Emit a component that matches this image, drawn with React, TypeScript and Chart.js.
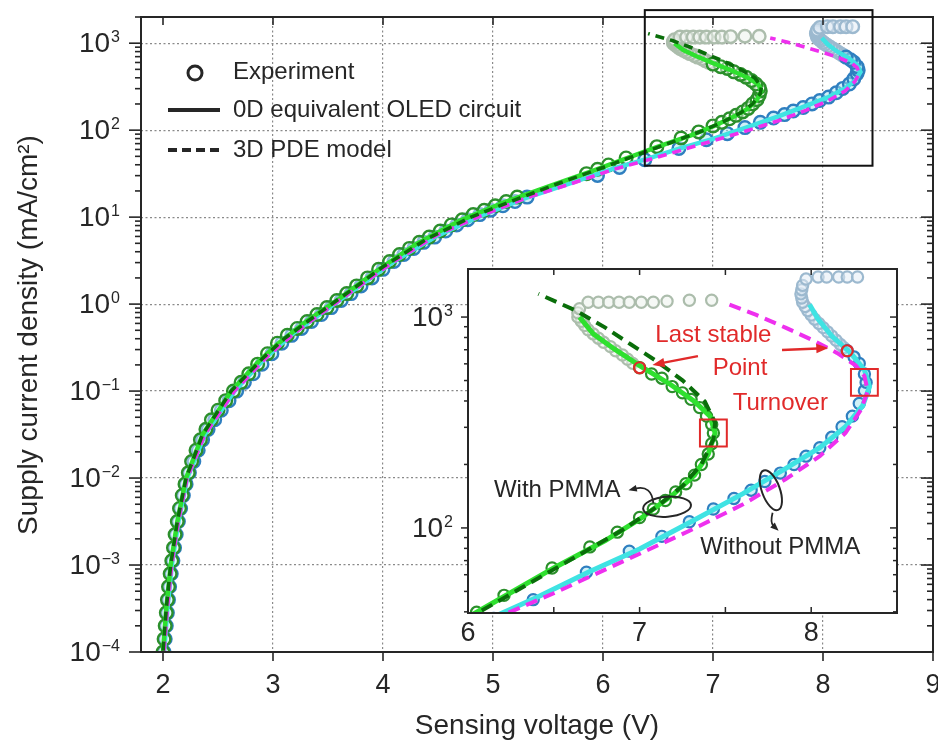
import { useEffect, useRef } from 'react';
import { Chart, registerables } from 'chart.js';

Chart.register(...registerables);

const FONT = '"Liberation Sans", Arial, Helvetica, sans-serif';
const INK = '#262626';
const GRID = '#8a8a8a';
const RED = '#e12a2a';

// ---------- axes / ticks ----------
const xTickValues = [2, 3, 4, 5, 6, 7, 8, 9];
const xTickLabels = ['2', '3', '4', '5', '6', '7', '8', '9'];
const yTickValues = [1e-4, 1e-3, 1e-2, 1e-1, 1, 10, 100, 1000];
const yTickExponents = ['−4', '−3', '−2', '−1', '0', '1', '2', '3'];
const insetXTickValues = [6, 6.5, 7, 7.5, 8];
const insetXTickLabels = ['6', '', '7', '', '8'];
const insetYTickValues = [10, 100, 1000];
const insetYTickExponents = ['1', '2', '3'];
const mainXRange = [1.8, 9];
const mainYRange = [1e-4, 2000];
const insetXRange = [6, 8.5];
const insetYRange = [39.5, 1690];

const xTitle = 'Sensing voltage (V)';
const yTitle = 'Supply current density (mA/cm²)';
const legendLabels = ['Experiment', '0D equivalent OLED circuit', '3D PDE model'];

// ---------- experiment: with PMMA (stable) ----------
const expWithV = [1.99, 2.0, 2.01, 2.02, 2.03, 2.04, 2.05, 2.065, 2.08, 2.095, 2.11, 2.13, 2.15, 2.175, 2.2, 2.23, 2.26, 2.3, 2.34, 2.39, 2.44, 2.5, 2.57, 2.64, 2.71, 2.78, 2.86, 2.95, 3.04, 3.13, 3.22, 3.31, 3.4, 3.49, 3.58, 3.67, 3.76, 3.86, 3.96, 4.06, 4.15, 4.24, 4.33, 4.42, 4.52, 4.62, 4.72, 4.82, 4.92, 5.02, 5.12, 5.22, 5.85, 5.95, 6.05, 6.21, 6.49, 6.71, 6.87, 7.0, 7.08, 7.15, 7.21, 7.27, 7.32, 7.36, 7.4, 7.42, 7.43, 7.42, 7.39, 7.35, 7.3, 7.25, 7.19, 7.13, 7.07, 7.0];
const expWithJ = [7.9e-5, 1.0e-4, 1.41e-4, 2.0e-4, 2.82e-4, 3.98e-4, 5.62e-4, 7.94e-4, 1.12e-3, 1.58e-3, 2.24e-3, 3.16e-3, 4.47e-3, 6.31e-3, 8.51e-3, 1.15e-2, 1.55e-2, 2.09e-2, 2.75e-2, 3.63e-2, 4.68e-2, 6.03e-2, 7.76e-2, 0.1, 0.126, 0.158, 0.204, 0.269, 0.355, 0.437, 0.525, 0.631, 0.759, 0.912, 1.1, 1.32, 1.62, 2.0, 2.51, 3.09, 3.72, 4.37, 5.13, 5.89, 6.92, 8.13, 9.33, 10.7, 12.0, 13.5, 15.1, 17.0, 31.6, 35.5, 39.8, 47.9, 64.6, 81.3, 95.5, 112, 123, 135, 148, 162, 178, 200, 224, 251, 282, 309, 339, 372, 407, 437, 468, 513, 537, 575];

// ---------- experiment: with PMMA (unstable, grey) ----------
const grayWithV = [6.96, 6.93, 6.9, 6.86, 6.83, 6.79, 6.76, 6.73, 6.7, 6.68, 6.66, 6.64, 6.64, 6.65, 6.7, 6.76, 6.82, 6.88, 6.94, 7.01, 7.08, 7.16, 7.29, 7.42];
const grayWithJ = [603, 631, 661, 692, 724, 759, 794, 832, 871, 912, 955, 1000, 1047, 1096, 1175, 1175, 1175, 1175, 1175, 1175, 1175, 1189, 1202, 1202];

// ---------- experiment: without PMMA (stable) ----------
const expWithoutV = [2.0, 2.01, 2.02, 2.03, 2.04, 2.05, 2.06, 2.075, 2.09, 2.105, 2.12, 2.14, 2.16, 2.185, 2.21, 2.24, 2.28, 2.32, 2.36, 2.41, 2.47, 2.53, 2.6, 2.67, 2.74, 2.82, 2.9, 2.99, 3.08, 3.17, 3.26, 3.35, 3.44, 3.53, 3.62, 3.71, 3.8, 3.9, 4.0, 4.1, 4.19, 4.28, 4.37, 4.47, 4.57, 4.67, 4.77, 4.88, 4.98, 5.09, 5.2, 5.31, 5.95, 6.15, 6.38, 6.69, 6.94, 7.13, 7.29, 7.43, 7.55, 7.65, 7.73, 7.82, 7.9, 7.97, 8.05, 8.12, 8.18, 8.24, 8.28, 8.31, 8.32, 8.31, 8.28, 8.25, 8.21];
const expWithoutJ = [7.9e-5, 1.0e-4, 1.41e-4, 2.0e-4, 2.82e-4, 3.98e-4, 5.62e-4, 7.94e-4, 1.12e-3, 1.58e-3, 2.24e-3, 3.16e-3, 4.47e-3, 6.31e-3, 8.51e-3, 1.15e-2, 1.55e-2, 2.09e-2, 2.75e-2, 3.63e-2, 4.68e-2, 6.03e-2, 7.76e-2, 0.1, 0.126, 0.158, 0.204, 0.269, 0.355, 0.437, 0.525, 0.631, 0.759, 0.912, 1.1, 1.32, 1.62, 2.0, 2.51, 3.09, 3.72, 4.37, 5.13, 5.89, 6.92, 8.13, 9.33, 10.7, 12.0, 13.5, 15.1, 17.0, 30.2, 37.2, 45.7, 61.7, 77.6, 91.2, 107, 123, 138, 151, 166, 182, 200, 219, 240, 269, 302, 339, 389, 447, 490, 537, 603, 646, 692];

// ---------- experiment: without PMMA (unstable, grey) ----------
const grayWithoutV = [8.19, 8.17, 8.145, 8.12, 8.095, 8.07, 8.045, 8.02, 8.0, 7.98, 7.965, 7.95, 7.945, 7.94, 7.945, 7.95, 7.97, 8.04, 8.09, 8.16, 8.21, 8.27];
const grayWithoutJ = [716, 741, 776, 813, 851, 891, 933, 977, 1023, 1072, 1122, 1175, 1230, 1288, 1349, 1413, 1514, 1549, 1549, 1549, 1549, 1549];

// ---------- 0D equivalent circuit ----------
const odWithV = [1.985, 2.0, 2.03, 2.07, 2.13, 2.21, 2.36, 2.62, 2.87, 3.05, 3.3, 3.6, 3.95, 4.3, 4.7, 5.1, 5.5, 5.9, 6.2, 6.5, 6.8, 7.0, 7.2, 7.32, 7.4, 7.44, 7.41, 7.32, 7.18, 7.0, 6.85, 6.73, 6.65];
const odWithJ = [7e-5, 1e-4, 3.16e-4, 1e-3, 3.16e-3, 1e-2, 3.16e-2, 0.1, 0.219, 0.355, 0.631, 1.15, 2.45, 4.9, 9.12, 14.8, 22.4, 33.9, 46.8, 64.6, 87.1, 110, 145, 178, 224, 282, 339, 398, 479, 589, 708, 832, 1000];
const odWithoutV = [1.995, 2.01, 2.04, 2.08, 2.14, 2.22, 2.38, 2.65, 2.93, 3.2, 3.5, 3.8, 4.1, 4.5, 4.9, 5.3, 5.7, 6.1, 6.4, 6.7, 7.0, 7.3, 7.6, 7.85, 8.05, 8.2, 8.3, 8.34, 8.31, 8.23, 8.12, 8.04, 7.99];
const odWithoutJ = [7e-5, 1e-4, 3.16e-4, 1e-3, 3.16e-3, 1e-2, 3.16e-2, 0.1, 0.24, 0.479, 0.891, 1.66, 3.09, 6.17, 10.5, 16.6, 24.5, 36.3, 46.8, 61.7, 79.4, 107, 145, 191, 240, 302, 380, 468, 562, 676, 813, 977, 1148];

// ---------- 3D PDE model ----------
const pdeWithV = [1.985, 2.0, 2.03, 2.07, 2.13, 2.21, 2.36, 2.62, 2.9, 3.1, 3.4, 3.7, 4.0, 4.4, 4.8, 5.2, 5.6, 6.0, 6.3, 6.6, 6.9, 7.1, 7.25, 7.36, 7.43, 7.44, 7.38, 7.25, 7.1, 6.95, 6.8, 6.63, 6.41];
const pdeWithJ = [7e-5, 1e-4, 3.16e-4, 1e-3, 3.16e-3, 1e-2, 3.16e-2, 0.1, 0.234, 0.398, 0.759, 1.41, 2.69, 5.62, 10, 15.8, 24.5, 37.2, 51.3, 70.8, 97.7, 126, 158, 200, 263, 316, 398, 501, 617, 741, 891, 1072, 1288];
const pdeWithoutV = [1.995, 2.01, 2.04, 2.08, 2.14, 2.22, 2.38, 2.65, 2.95, 3.2, 3.5, 3.8, 4.1, 4.5, 4.9, 5.3, 5.7, 6.1, 6.5, 6.9, 7.3, 7.6, 7.85, 8.05, 8.2, 8.29, 8.33, 8.31, 8.26, 8.15, 8.01, 7.85, 7.68, 7.52];
const pdeWithoutJ = [7e-5, 1e-4, 3.16e-4, 1e-3, 3.16e-3, 1e-2, 3.16e-2, 0.1, 0.251, 0.468, 0.891, 1.66, 3.09, 6.31, 10.5, 16.6, 24.0, 35.5, 49.0, 69.2, 97.7, 129, 170, 219, 282, 363, 447, 525, 589, 676, 776, 891, 1023, 1148];

// ---------- inset markers ----------
const lastStableV = [7.0, 8.21];
const lastStableJ = [575, 692];
const turnoverV = [7.43, 8.31];
const turnoverJ = [282, 490];

// zoom region drawn on main plot
const zoomBoxV = [6.38, 8.45];
const zoomBoxJ = [39, 2400];

// ---------- inset annotations ----------
const redNoteTexts = ['Last stable', 'Point', 'Turnover'];
const redNoteV = [7.43, 7.585, 7.82];
const redNoteJ = [822, 573, 391];
const redArrowFromV = [7.34, 7.83];
const redArrowFromJ = [653, 698];
const redArrowToV = [7.075, 8.1];
const redArrowToJ = [593, 713];
const groupTexts = ['With PMMA', 'Without PMMA'];
const groupTextV = [6.52, 7.82];
const groupTextJ = [151, 81];
const groupArrowFromV = [7.08, 7.775];
const groupArrowFromJ = [131, 118];
const groupArrowCtrlV = [7.07, 7.76];
const groupArrowCtrlJ = [160, 106];
const groupArrowToV = [6.935, 7.81];
const groupArrowToJ = [151, 97];
const groupEllipseV = [7.16, 7.765];
const groupEllipseJ = [126, 151];

const pts = (vs: number[], js: number[]) => vs.map((v, i) => ({ x: v, y: js[i] }));
const TRANSPARENT = 'rgba(0,0,0,0)';

function buildDatasets(inset: boolean): any[] {
  const r = inset ? 5.6 : 6.3;
  const bw = inset ? 2.2 : 2.4;
  const solidW = inset ? 5 : 4.5;
  const dashW = inset ? 4 : 3.6;
  const dash = inset ? [12, 7] : [9, 6];
  const circles = (data: any[], border: string, fill: string, order: number) => ({
    data, showLine: false, pointRadius: r, pointBorderWidth: bw, pointBorderColor: border,
    pointBackgroundColor: fill, pointStyle: 'circle', order, clip: 0,
  });
  const line = (data: any[], color: string, width: number, d: number[], order: number) => ({
    data, showLine: true, pointRadius: 0, borderColor: color, borderWidth: width,
    borderDash: d, tension: 0, fill: false, order, clip: 0,
  });
  const sets: any[] = [
    circles(pts(grayWithV, grayWithJ), '#acbdac', 'rgba(236,241,236,0.5)', 12),
    circles(pts(grayWithoutV, grayWithoutJ), '#9cb9cf', 'rgba(226,236,245,0.5)', 12),
    circles(pts(expWithoutV, expWithoutJ), '#2f7fc0', 'rgba(160,228,240,0.5)', 10),
    circles(pts(expWithV, expWithJ), '#2b8f2b', 'rgba(255,255,255,0.45)', 9),
    line(pts(odWithoutV, odWithoutJ), '#3fe3e3', solidW, [], 8),
    line(pts(odWithV, odWithJ), '#2fe02f', solidW, [], 7),
    line(pts(pdeWithoutV, pdeWithoutJ), '#ee30ee', dashW, dash, 6),
    line(pts(pdeWithV, pdeWithJ), '#0a6e0a', dashW, dash, 5),
  ];
  if (inset) {
    sets.push({
      data: pts(turnoverV, turnoverJ), showLine: false, pointStyle: 'rect', pointRadius: 19,
      pointBorderWidth: 2, pointBorderColor: RED, pointBackgroundColor: TRANSPARENT, order: 2, clip: 0,
    });
    sets.push({
      data: pts(lastStableV, lastStableJ), showLine: false, pointStyle: 'circle', pointRadius: 5.5,
      pointBorderWidth: 2.2, pointBorderColor: RED, pointBackgroundColor: TRANSPARENT, order: 1, clip: 0,
    });
  }
  return sets;
}

function seg(ctx: CanvasRenderingContext2D, x1: number, y1: number, x2: number, y2: number) {
  ctx.beginPath();
  ctx.moveTo(x1, y1);
  ctx.lineTo(x2, y2);
  ctx.stroke();
}

function drawPow(ctx: CanvasRenderingContext2D, right: number, yc: number, exp: string, big: number, small: number) {
  ctx.fillStyle = INK;
  ctx.textAlign = 'right';
  ctx.font = `${small}px ${FONT}`;
  const ew = ctx.measureText(exp).width;
  ctx.textBaseline = 'alphabetic';
  ctx.fillText(exp, right, yc - 1);
  ctx.font = `${big}px ${FONT}`;
  ctx.textBaseline = 'middle';
  ctx.fillText('10', right - ew - 1, yc + 1);
}

function curvedArrow(ctx: CanvasRenderingContext2D, x1: number, y1: number, cx: number, cy: number,
  x2: number, y2: number, color: string, w: number, head: number) {
  const ang = Math.atan2(y2 - cy, x2 - cx);
  const bx = x2 - Math.cos(ang) * head * 0.8;
  const by = y2 - Math.sin(ang) * head * 0.8;
  ctx.strokeStyle = color;
  ctx.fillStyle = color;
  ctx.lineWidth = w;
  ctx.beginPath();
  ctx.moveTo(x1, y1);
  ctx.quadraticCurveTo(cx, cy, bx, by);
  ctx.stroke();
  ctx.beginPath();
  ctx.moveTo(x2, y2);
  ctx.lineTo(x2 - head * Math.cos(ang - 0.38), y2 - head * Math.sin(ang - 0.38));
  ctx.lineTo(x2 - head * Math.cos(ang + 0.38), y2 - head * Math.sin(ang + 0.38));
  ctx.closePath();
  ctx.fill();
}

const isDecade = (v: number) => Math.abs(Math.log10(v) - Math.round(Math.log10(v))) < 1e-6;

const mainDeco = {
  id: 'mainDeco',
  afterDraw(chart: any) {
    const { ctx, chartArea: a, scales } = chart;
    const xs = scales.x;
    const ys = scales.y;
    ctx.save();
    ctx.strokeStyle = INK;
    ctx.lineWidth = 2;
    ctx.strokeRect(a.left, a.top, a.right - a.left, a.bottom - a.top);

    ctx.lineWidth = 1.6;
    yTickValues.forEach((v) => {
      for (let m = 1; m <= 9; m++) {
        const val = v * m;
        if (val > ys.max * 1.0001) break;
        const py = ys.getPixelForValue(val);
        const len = m === 1 ? 12 : 6;
        seg(ctx, a.left - len, py, a.left, py);
        seg(ctx, a.right - len, py, a.right, py);
      }
    });
    xTickValues.forEach((v) => {
      const px = xs.getPixelForValue(v);
      seg(ctx, px, a.bottom, px, a.bottom + 9);
      if (v < 9) seg(ctx, px, a.top, px, a.top + 8);
    });

    ctx.fillStyle = INK;
    ctx.font = `27px ${FONT}`;
    ctx.textAlign = 'center';
    ctx.textBaseline = 'middle';
    xTickValues.forEach((v, i) => ctx.fillText(xTickLabels[i], xs.getPixelForValue(v), a.bottom + 34));
    yTickValues.forEach((v, i) => drawPow(ctx, a.left - 21, ys.getPixelForValue(v), yTickExponents[i], 28, 16));

    ctx.fillStyle = INK;
    ctx.font = `28px ${FONT}`;
    ctx.textAlign = 'center';
    ctx.textBaseline = 'middle';
    ctx.fillText(xTitle, 537, 726);
    ctx.save();
    ctx.translate(29, 335);
    ctx.rotate(-Math.PI / 2);
    ctx.fillText(yTitle, 0, 0);
    ctx.restore();

    const lx = a.left + 54;
    const tx = a.left + 92;
    const rows = [a.top + 55, a.top + 93, a.top + 133];
    ctx.strokeStyle = INK;
    ctx.lineWidth = 3;
    ctx.beginPath();
    ctx.arc(lx, rows[0] + 1, 7, 0, Math.PI * 2);
    ctx.stroke();
    ctx.lineWidth = 4;
    seg(ctx, lx - 27, rows[1], lx + 25, rows[1]);
    ctx.setLineDash([9, 5]);
    seg(ctx, lx - 27, rows[2], lx + 25, rows[2]);
    ctx.setLineDash([]);
    ctx.fillStyle = INK;
    ctx.font = `24px ${FONT}`;
    ctx.textAlign = 'left';
    ctx.textBaseline = 'middle';
    legendLabels.forEach((t, i) => ctx.fillText(t, tx, rows[i]));

    const rx1 = xs.getPixelForValue(zoomBoxV[0]);
    const rx2 = xs.getPixelForValue(zoomBoxV[1]);
    const ry1 = ys.getPixelForValue(zoomBoxJ[1]);
    const ry2 = ys.getPixelForValue(zoomBoxJ[0]);
    ctx.strokeStyle = '#111';
    ctx.lineWidth = 2;
    ctx.strokeRect(rx1, ry1, rx2 - rx1, ry2 - ry1);
    ctx.restore();
  },
};

const insetDeco = {
  id: 'insetDeco',
  beforeDraw(chart: any) {
    const { ctx, chartArea: a } = chart;
    ctx.save();
    ctx.fillStyle = '#ffffff';
    ctx.fillRect(a.left, a.top, a.right - a.left, a.bottom - a.top);
    ctx.restore();
  },
  afterDraw(chart: any) {
    const { ctx, chartArea: a, scales } = chart;
    const xs = scales.x;
    const ys = scales.y;
    const X = (v: number) => xs.getPixelForValue(v);
    const Y = (j: number) => ys.getPixelForValue(j);
    ctx.save();
    ctx.strokeStyle = INK;
    ctx.lineWidth = 2;
    ctx.strokeRect(a.left, a.top, a.right - a.left, a.bottom - a.top);

    ctx.lineWidth = 1.5;
    insetYTickValues.forEach((v) => {
      for (let m = 1; m <= 9; m++) {
        const val = v * m;
        if (val < ys.min || val > ys.max) continue;
        const py = Y(val);
        const len = m === 1 ? 7 : 4;
        seg(ctx, a.left - len, py, a.left + 1, py);
        seg(ctx, a.right - len, py, a.right, py);
      }
    });
    insetXTickValues.forEach((v) => {
      const px = X(v);
      seg(ctx, px, a.bottom, px, a.bottom - 6);
      seg(ctx, px, a.top, px, a.top + 6);
    });

    ctx.fillStyle = INK;
    ctx.font = `27px ${FONT}`;
    ctx.textAlign = 'center';
    ctx.textBaseline = 'middle';
    insetXTickValues.forEach((v, i) => {
      if (insetXTickLabels[i]) ctx.fillText(insetXTickLabels[i], X(v), a.bottom + 21);
    });
    insetYTickValues.forEach((v, i) => {
      if (v >= ys.min && v <= ys.max) drawPow(ctx, a.left - 15, Y(v), insetYTickExponents[i], 28, 16);
    });

    ctx.fillStyle = RED;
    ctx.font = `24px ${FONT}`;
    ctx.textAlign = 'center';
    ctx.textBaseline = 'middle';
    redNoteTexts.forEach((t, i) => ctx.fillText(t, X(redNoteV[i]), Y(redNoteJ[i])));
    redArrowFromV.forEach((v, i) => {
      const x1 = X(v), y1 = Y(redArrowFromJ[i]);
      const x2 = X(redArrowToV[i]), y2 = Y(redArrowToJ[i]);
      curvedArrow(ctx, x1, y1, (x1 + x2) / 2, (y1 + y2) / 2, x2, y2, RED, 2.4, 13);
    });

    ctx.fillStyle = INK;
    ctx.font = `24px ${FONT}`;
    groupTexts.forEach((t, i) => ctx.fillText(t, X(groupTextV[i]), Y(groupTextJ[i])));
    ctx.strokeStyle = INK;
    ctx.lineWidth = 2;
    ctx.beginPath();
    ctx.ellipse(X(groupEllipseV[0]), Y(groupEllipseJ[0]), 24, 10, -0.08, 0, Math.PI * 2);
    ctx.stroke();
    ctx.beginPath();
    ctx.ellipse(X(groupEllipseV[1]), Y(groupEllipseJ[1]), 9, 21, -0.35, 0, Math.PI * 2);
    ctx.stroke();
    groupArrowFromV.forEach((v, i) => {
      curvedArrow(ctx, X(v), Y(groupArrowFromJ[i]), X(groupArrowCtrlV[i]), Y(groupArrowCtrlJ[i]),
        X(groupArrowToV[i]), Y(groupArrowToJ[i]), INK, 1.8, 9);
    });
    ctx.restore();
  },
};

const gridColorX = (c: any) => {
  const v = c.tick ? c.tick.value : NaN;
  return Math.abs(v - Math.round(v)) < 1e-6 && v >= 2 && v <= 8 ? GRID : TRANSPARENT;
};
const gridColorY = (c: any) => {
  const v = c.tick ? c.tick.value : NaN;
  return v > 0 && isDecade(v) && v > 1.5e-4 && v < 1500 ? GRID : TRANSPARENT;
};

export default function App() {
  const mainRef = useRef<HTMLCanvasElement>(null);
  const insetRef = useRef<HTMLCanvasElement>(null);

  useEffect(() => {
    const main = new Chart(mainRef.current as HTMLCanvasElement, {
      type: 'scatter',
      data: { datasets: buildDatasets(false) },
      options: {
        responsive: false,
        maintainAspectRatio: false,
        animation: false,
        devicePixelRatio: 1,
        events: [],
        layout: { autoPadding: false, padding: { left: 0, top: 17, right: 5, bottom: 0 } },
        plugins: { legend: { display: false }, tooltip: { enabled: false } },
        scales: {
          x: {
            type: 'linear', position: 'bottom', min: mainXRange[0], max: mainXRange[1],
            ticks: { display: false, stepSize: 1 },
            grid: { color: gridColorX, lineWidth: 1.2, drawTicks: false },
            border: { display: false, dash: [2, 2.5] },
            afterFit: (s: any) => { s.height = 90; },
          },
          y: {
            type: 'logarithmic', position: 'left', min: mainYRange[0], max: mainYRange[1],
            ticks: { display: false },
            grid: { color: gridColorY, lineWidth: 1.2, drawTicks: false },
            border: { display: false, dash: [2, 2.5] },
            afterFit: (s: any) => { s.width = 141; },
          },
        },
      } as any,
      plugins: [mainDeco],
    });

    const inset = new Chart(insetRef.current as HTMLCanvasElement, {
      type: 'scatter',
      data: { datasets: buildDatasets(true) },
      options: {
        responsive: false,
        maintainAspectRatio: false,
        animation: false,
        devicePixelRatio: 1,
        events: [],
        layout: { autoPadding: false, padding: { left: 0, top: 7, right: 8, bottom: 0 } },
        plugins: { legend: { display: false }, tooltip: { enabled: false } },
        scales: {
          x: {
            type: 'linear', position: 'bottom', min: insetXRange[0], max: insetXRange[1],
            ticks: { display: false, stepSize: 0.5 },
            grid: { display: false, drawTicks: false },
            border: { display: false },
            afterFit: (s: any) => { s.height = 41; },
          },
          y: {
            type: 'logarithmic', position: 'left', min: insetYRange[0], max: insetYRange[1],
            ticks: { display: false },
            grid: { display: false, drawTicks: false },
            border: { display: false },
            afterFit: (s: any) => { s.width = 73; },
          },
        },
      } as any,
      plugins: [insetDeco],
    });

    return () => {
      main.destroy();
      inset.destroy();
    };
  }, []);

  return (
    <div style={{ position: 'absolute', left: 0, top: 0, width: 938, height: 742, background: '#ffffff', overflow: 'hidden' }}>
      <canvas ref={mainRef} width={938} height={742}
        style={{ position: 'absolute', left: 0, top: 0, width: 938, height: 742 }} />
      <canvas ref={insetRef} width={510} height={392}
        style={{ position: 'absolute', left: 395, top: 262, width: 510, height: 392 }} />
    </div>
  );
}
